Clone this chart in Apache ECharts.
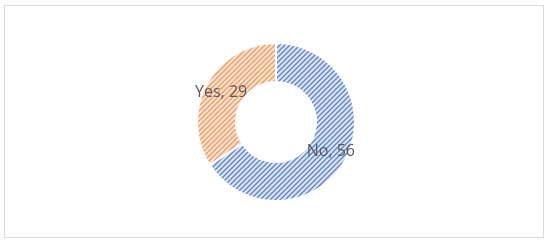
<!DOCTYPE html>
<html>
<head>
<meta charset="utf-8">
<script src="https://cdn.jsdelivr.net/npm/echarts@6/dist/echarts.min.js"></script>
<style>
  html, body { margin: 0; padding: 0; background: #fff; }
  #frame { position: absolute; left: 4px; top: 5px; width: 540px; height: 233px; border: 1px solid #d9d9d9; box-sizing: border-box; }
  #chart { width: 550px; height: 244px; }
</style>
</head>
<body>
<div id="frame"></div>
<div id="chart"></div>
<script>
const categories = ['No', 'Yes'];
const counts = [56, 29];

// diagonal hatch tiles, like the Excel pattern fill
function hatch(bg, fg) {
  const n = 5;
  const c = document.createElement('canvas');
  c.width = n; c.height = n;
  const ctx = c.getContext('2d');
  ctx.fillStyle = bg;
  ctx.fillRect(0, 0, n, n);
  ctx.strokeStyle = fg;
  ctx.lineWidth = 1.3;
  ctx.beginPath();
  ctx.moveTo(-1, n + 1); ctx.lineTo(n + 1, -1);
  ctx.moveTo(-1, 1); ctx.lineTo(1, -1);
  ctx.moveTo(n - 1, n + 1); ctx.lineTo(n + 1, n - 1);
  ctx.stroke();
  return { image: c, repeat: 'repeat' };
}

const fills = [hatch('#dce5f5', '#5b82cc'), hatch('#fde3d2', '#f09a60')];

const chart = echarts.init(document.getElementById('chart'));
chart.setOption({
  animation: false,
  series: [{
    type: 'pie',
    center: [276, 122],
    radius: [40, 79],
    startAngle: 90,
    clockwise: true,
    data: categories.map((name, i) => ({
      name,
      value: counts[i],
      itemStyle: { color: fills[i] }
    })),
    itemStyle: { borderColor: '#fff', borderWidth: 2 },
    label: {
      position: 'inside',
      formatter: '{b}, {c}',
      color: '#595959',
      fontSize: 16,
      fontFamily: 'Open Sans',
      padding: [6, 0, 0, 0]
    },
    labelLine: { show: false }
  }]
});
</script>
</body>
</html>
